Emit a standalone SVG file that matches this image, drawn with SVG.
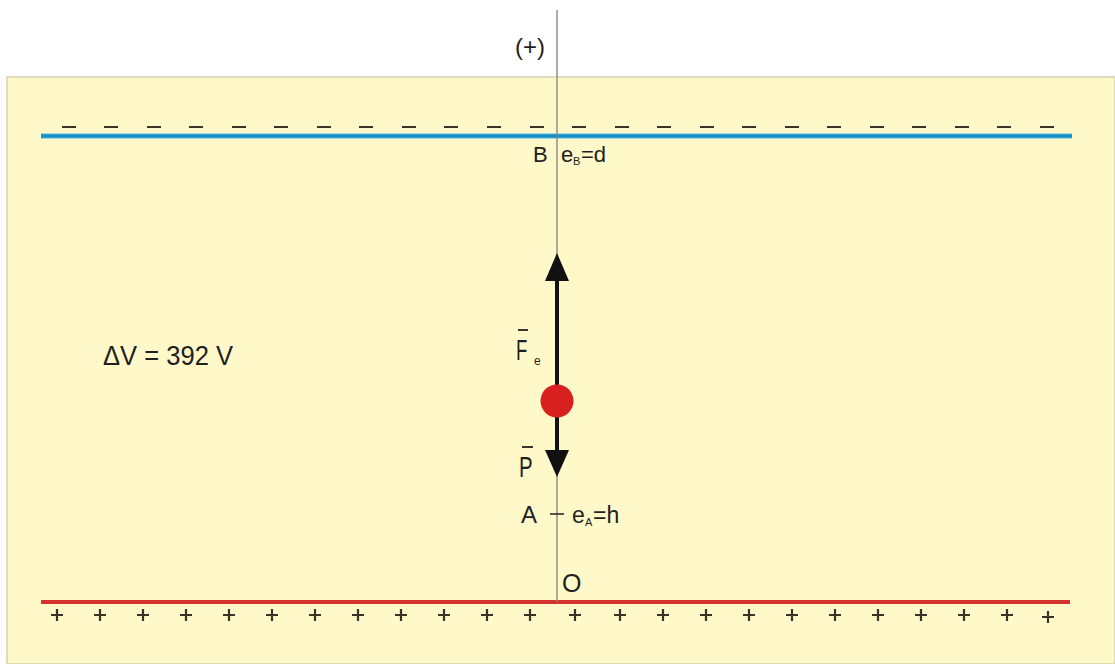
<svg xmlns="http://www.w3.org/2000/svg" width="1115" height="664" viewBox="0 0 1115 664">
<style>
text{font-family:"Liberation Sans",Arial,sans-serif;fill:#231f20}
.lbl{font-size:22px}
.sub{font-size:11px}
.sign{stroke:#3a3426;stroke-width:2.2}
</style>
<rect width="1115" height="664" fill="#fff"/>
<rect x="7" y="77" width="1108" height="587" fill="#fff8c9" stroke="#d6d1ad" stroke-width="1.5"/>
<g id="plate-top">
<line x1="41" y1="136" x2="1072" y2="136" stroke="#7fd0ef" stroke-width="5.5"/>
<line x1="41" y1="136" x2="1072" y2="136" stroke="#1a8fc3" stroke-width="3.5"/>
<g class="sign">
<path d="M62,127h14M104,127h14M147,127h14M189,127h14M232,127h14M274,127h14M317,127h14M359,127h14M402,127h14M444,127h14M487,127h14M530,127h14M572,127h14M615,127h14M657,127h14M700,127h14M742,127h14M785,127h14M827,127h14M870,127h14M912,127h14M955,127h14M997,127h14M1040,127h14"/>
</g>
</g>
<g id="plate-bottom">
<line x1="41" y1="602" x2="1070" y2="602" stroke="#d2332c" stroke-width="4"/>
<g class="sign">
<path d="M51,615h12M57,609v12M94,615h12M100,609v12M137,615h12M143,609v12M180,615h12M186,609v12M223,615h12M229,609v12M266,615h12M272,609v12M309,615h12M315,609v12M352,615h12M358,609v12M395,615h12M401,609v12M438,615h12M444,609v12M481,615h12M487,609v12M524,615h12M530,609v12M569,615h12M575,609v12M614,615h12M620,609v12M657,615h12M663,609v12M700,615h12M706,609v12M743,615h12M749,609v12M786,615h12M792,609v12M829,615h12M835,609v12M872,615h12M878,609v12M915,615h12M921,609v12M958,615h12M964,609v12M1001,615h12M1007,609v12M1042,617h12M1048,611v12"/>
</g>
</g>
<g id="axis">
<line x1="557" y1="10" x2="557" y2="602" stroke="#8a8a80" stroke-width="1.4"/>
<text x="515" y="55" style="font-size:24px">(+)</text>
<line x1="550" y1="514" x2="564" y2="514" stroke="#231f20" stroke-width="1.5"/>
</g>
<g id="connectors">
<line x1="557" y1="395" x2="557" y2="278" stroke="#111" stroke-width="4"/>
<path d="M545,281 L557,253 L569,281 Z" fill="#111"/>
<line x1="557" y1="405" x2="557" y2="452" stroke="#111" stroke-width="4"/>
<path d="M545,450 L557,477 L569,450 Z" fill="#111"/>
</g>
<g id="charge">
<circle cx="557" cy="401" r="16.5" fill="#d8201f"/>
</g>
<g id="labels">
<text x="533" y="162" class="lbl">B</text>
<text x="561" y="162" class="lbl">e</text>
<text x="573" y="165" class="sub">B</text>
<text x="581" y="162" class="lbl">=d</text>
<line x1="518" y1="330" x2="528" y2="330" stroke="#231f20" stroke-width="1.8"/>
<text transform="translate(516,360) scale(0.62,1)" style="font-size:30px">F</text>
<text x="534" y="365" style="font-size:12px">e</text>
<line x1="522" y1="447" x2="533" y2="447" stroke="#231f20" stroke-width="1.8"/>
<text transform="translate(519,477) scale(0.68,1)" style="font-size:30px">P</text>
<text x="521" y="523" style="font-size:24px">A</text>
<text x="572" y="523" style="font-size:23px">e</text>
<text x="585" y="526" class="sub">A</text>
<text x="593" y="523" style="font-size:23px">=h</text>
<text x="562" y="592" style="font-size:25px">O</text>
<text x="103" y="365" style="font-size:27px" textLength="130" lengthAdjust="spacingAndGlyphs">ΔV = 392 V</text>
</g>
</svg>
